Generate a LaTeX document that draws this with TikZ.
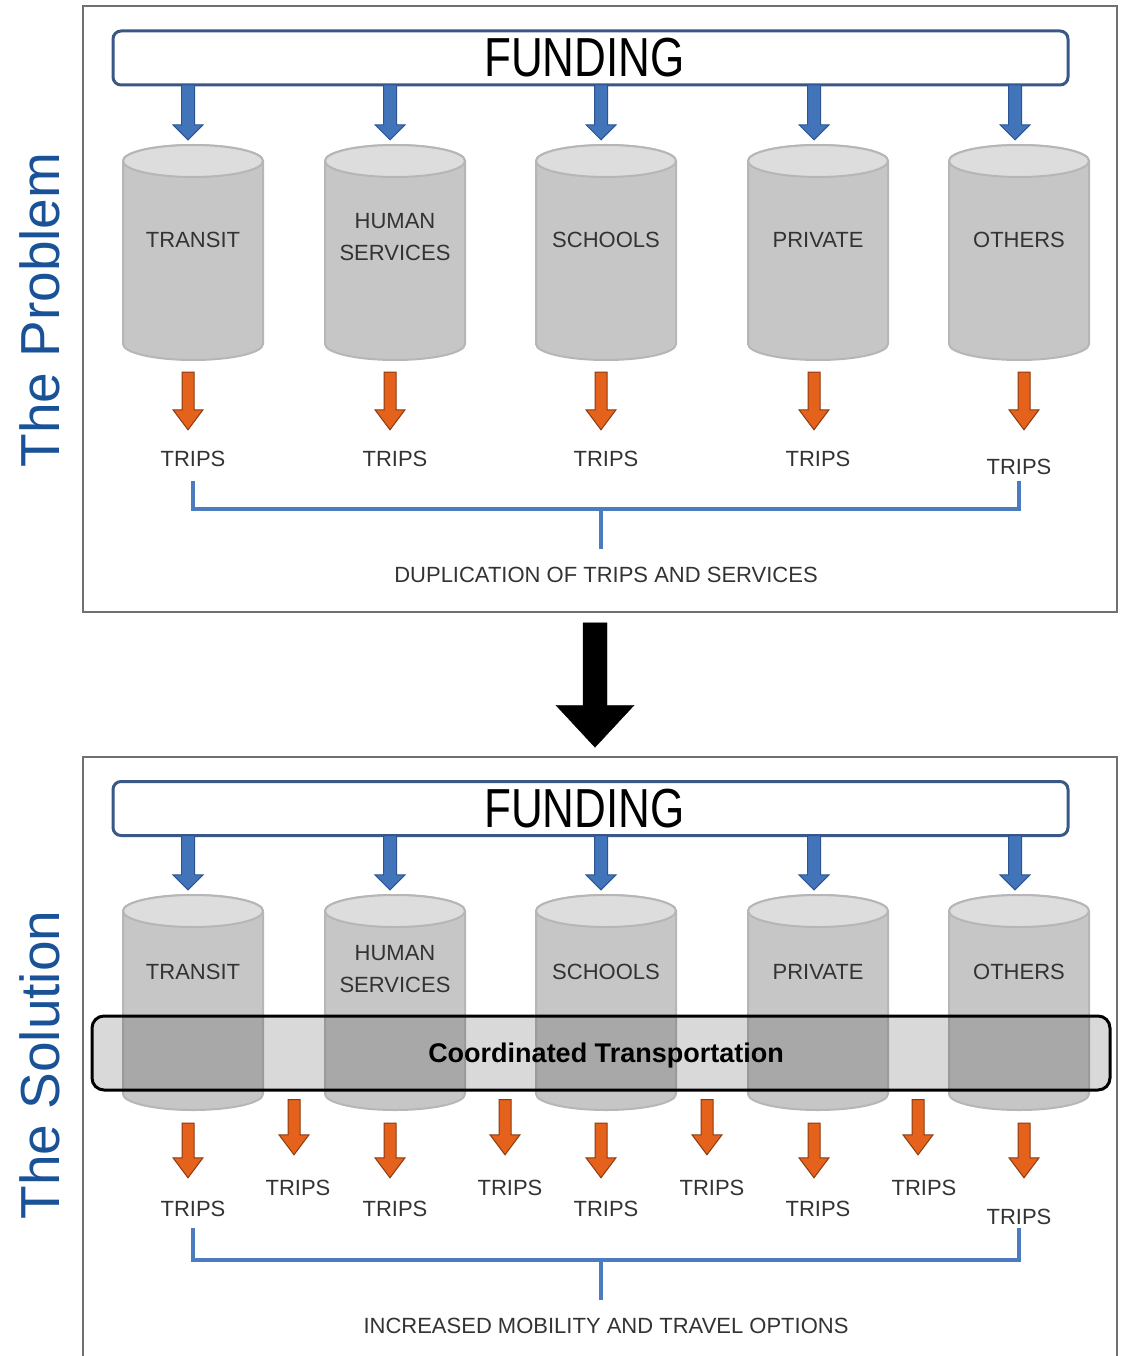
\documentclass[tikz,border=0pt]{standalone}
\usepackage{fontspec}
\setmainfont{Liberation Sans}
\usetikzlibrary{calc}

\definecolor{panelgray}{RGB}{112,112,112}
\definecolor{fundedge}{RGB}{58,88,135}
\definecolor{arrblue}{RGB}{66,116,186}
\definecolor{arrblueedge}{RGB}{44,84,146}
\definecolor{arrorange}{RGB}{228,98,28}
\definecolor{arrorangeedge}{RGB}{138,58,18}
\definecolor{brblue}{RGB}{76,124,192}
\definecolor{cylbody}{RGB}{198,198,198}
\definecolor{cyltop}{RGB}{221,221,221}
\definecolor{cyledge}{RGB}{182,182,182}
\definecolor{sideblue}{RGB}{26,82,152}

% block arrows drawn as one outlined polygon between two nodes
\tikzset{
  arr shaft/.store in=\arrshaft, arr head/.store in=\arrhead, arr len/.store in=\arrlen,
  gap a/.store in=\gapa, gap b/.store in=\gapb, arr dx/.store in=\arrdx,
  arr shaft=6pt, arr head=15pt, arr len=18pt, gap a=0pt, gap b=0pt, arr dx=0pt,
  blockarrow/.style={to path={let \p1=(\tikztostart), \p2=(\tikztotarget) in
    (\x2+\arrdx-\arrshaft,\y1-\gapa) -- (\x2+\arrdx+\arrshaft,\y1-\gapa)
    -- (\x2+\arrdx+\arrshaft,\y2+\gapb+\arrlen) -- (\x2+\arrdx+\arrhead,\y2+\gapb+\arrlen)
    -- (\x2+\arrdx,\y2+\gapb) -- (\x2+\arrdx-\arrhead,\y2+\gapb+\arrlen)
    -- (\x2+\arrdx-\arrshaft,\y2+\gapb+\arrlen) -- cycle}},
  panel/.style={draw=panelgray, line width=1.5pt, minimum width=1034pt, minimum height=606pt},
  fund/.style={draw=fundedge, line width=3pt, rounded corners=8pt, fill=white,
    minimum width=955pt, minimum height=54pt, font=\fontsize{55}{60}\selectfont},
  % cylinder drawn inside a plain 144 x 219 node
  cyl/.style={minimum width=144pt, minimum height=219pt, inner sep=0pt, path picture={
    \coordinate (cc) at (path picture bounding box.center);
    \draw[fill=cylbody, draw=cyledge, line width=2pt]
      ([xshift=-70pt,yshift=91.5pt]cc) -- ([xshift=-70pt,yshift=-91.5pt]cc)
      arc[start angle=180, end angle=360, x radius=70pt, y radius=16pt]
      -- ([xshift=70pt,yshift=91.5pt]cc)
      arc[start angle=0, end angle=180, x radius=70pt, y radius=16pt] -- cycle;
    \draw[fill=cyltop, draw=cyledge, line width=2pt] ([yshift=91.5pt]cc) ellipse[x radius=70pt, y radius=16pt];
  }},
  lbl/.style={font=\fontsize{22}{32}\selectfont, text=black!80, align=center},
  tlabel/.style={lbl, text height=16pt, text depth=0pt, inner sep=2pt},
  band/.style={draw=black, line width=3pt, rounded corners=12pt, fill=black,
    fill opacity=0.15, text opacity=1, minimum width=1018pt, minimum height=74pt,
    text depth=0pt, font=\bfseries\fontsize{27}{30}\selectfont},
  bluearr/.style={blockarrow, fill=arrblue, draw=arrblueedge, line width=1pt,
    arr shaft=6.5pt, arr head=15pt, arr len=15pt},
  orangearr/.style={blockarrow, fill=arrorange, draw=arrorangeedge, line width=1pt,
    arr shaft=6pt, arr head=15pt, arr len=20pt},
  bigarr/.style={blockarrow, fill=black, arr shaft=12pt, arr head=39pt, arr len=42pt},
  bracket/.style={draw=brblue, line width=4pt},
  side/.style={rotate=90, text=sideblue, font=\fontsize{55}{60}\selectfont, inner sep=0pt},
}

\begin{document}
\begin{tikzpicture}[x=1pt, y=-1pt]
  \useasboundingbox (0,0) rectangle (1120,1356);
  \clip (0,0) rectangle (1120,1356);

  % the problem
  \node[panel] (prob) at (600,309) {};
  \node[side] (pl) at (40,310) {The Problem};
  \node[fund] (f1) at (590.5,58) {\hspace*{-12pt}\scalebox{0.8}[1]{FUNDING}};

  \node[cyl] (c1) at (193,252.5) {};
  \node[cyl] (c2) at (395,252.5) {};
  \node[cyl] (c3) at (606,252.5) {};
  \node[cyl] (c4) at (818,252.5) {};
  \node[cyl] (c5) at (1019,252.5) {};
  \node[lbl] (l1) at (193,240) {TRANSIT};
  \node[lbl] (l2) at (395,237) {HUMAN\\SERVICES};
  \node[lbl] (l3) at (606,240) {SCHOOLS};
  \node[lbl] (l4) at (818,240) {PRIVATE};
  \node[lbl] (l5) at (1019,240) {OTHERS};

  \node[tlabel] (t1) at (193,458) {TRIPS};
  \node[tlabel] (t2) at (395,458) {TRIPS};
  \node[tlabel] (t3) at (606,458) {TRIPS};
  \node[tlabel] (t4) at (818,458) {TRIPS};
  \node[tlabel] (t5) at (1019,466) {TRIPS};
  \node[tlabel] (dup) at (606,574) {DUPLICATION OF TRIPS AND SERVICES};

  \foreach \i/\d in {1/-5,2/-5,3/-5,4/-4,5/-4}{\draw[bluearr, arr dx=\d pt, gap a=-1.5pt, gap b=3pt] (f1.south) to (c\i.north); }
  \foreach \i/\d/\g in {1/-5/18,2/-5/18,3/-5/18,4/-4/18,5/5/26}{\draw[orangearr, arr dx=\d pt, gap a=10pt, gap b=\g pt] (c\i.south) to (t\i.north); }

  \coordinate (j1) at (601,509);
  \draw[bracket] ([yshift=-13pt]t1.south) -- (t1 |- j1) -- (t5 |- j1) -- ([yshift=-5pt]t5.south);
  \draw[bracket, shorten >=15pt] (j1) -- (j1 |- dup.north);

  % the solution
  \node[panel] (sol) at (600,1060) {};
  \node[side] (sl) at (40,1065) {The Solution};
  \node[fund] (f2) at (590.5,808.5) {\hspace*{-12pt}\scalebox{0.8}[1]{FUNDING}};

  \node[cyl] (d1) at (193,1002.5) {};
  \node[cyl] (d2) at (395,1002.5) {};
  \node[cyl] (d3) at (606,1002.5) {};
  \node[cyl] (d4) at (818,1002.5) {};
  \node[cyl] (d5) at (1019,1002.5) {};
  \node[lbl] (m1) at (193,972) {TRANSIT};
  \node[lbl] (m2) at (395,969) {HUMAN\\SERVICES};
  \node[lbl] (m3) at (606,972) {SCHOOLS};
  \node[lbl] (m4) at (818,972) {PRIVATE};
  \node[lbl] (m5) at (1019,972) {OTHERS};

  \node[band] (ct) at (601,1053) {\hspace*{10pt}Coordinated Transportation};

  \node[tlabel] (u1) at (193,1208) {TRIPS};
  \node[tlabel] (u2) at (395,1208) {TRIPS};
  \node[tlabel] (u3) at (606,1208) {TRIPS};
  \node[tlabel] (u4) at (818,1208) {TRIPS};
  \node[tlabel] (u5) at (1019,1216) {TRIPS};
  \node[tlabel] (s1) at (298,1187) {TRIPS};
  \node[tlabel] (s2) at (510,1187) {TRIPS};
  \node[tlabel] (s3) at (712,1187) {TRIPS};
  \node[tlabel] (s4) at (924,1187) {TRIPS};
  \node[tlabel] (inc) at (606,1325) {INCREASED MOBILITY AND TRAVEL OPTIONS};

  \foreach \i/\d in {1/-5,2/-5,3/-5,4/-4,5/-4}{\draw[bluearr, arr dx=\d pt, gap a=-1.5pt, gap b=3pt] (f2.south) to (d\i.north); }
  \foreach \i/\d/\g in {1/-5/20,2/-5/20,3/-5/20,4/-4/20,5/5/28}{\draw[orangearr, arr dx=\d pt, gap a=11pt, gap b=\g pt] (d\i.south) to (u\i.north); }
  \foreach \i/\d in {1/-4,2/-5,3/-5,4/-6}{\draw[orangearr, arr dx=\d pt, gap a=8pt, gap b=22pt] (ct.south) to (s\i.north); }

  \coordinate (j2) at (601,1260);
  \draw[bracket] ([yshift=-10pt]u1.south) -- (u1 |- j2) -- (u5 |- j2) -- ([yshift=-2pt]u5.south);
  \draw[bracket, shorten >=15pt] (j2) -- (j2 |- inc.north);

  % problem -> solution
  \draw[bigarr, arr dx=-5pt, gap a=10pt, gap b=9pt] (prob.south) to (sol.north);
\end{tikzpicture}
\end{document}
